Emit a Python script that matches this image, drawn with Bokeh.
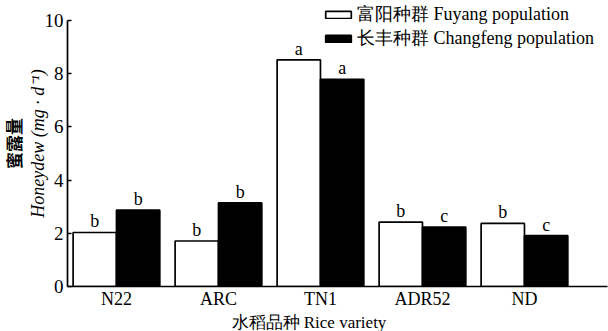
import numpy as np
from bokeh.plotting import figure
from bokeh.models import (Range1d, FixedTicker, ColumnDataSource, LabelSet,
                          Legend, LegendItem, Title)
from bokeh.embed import file_html
from bokeh.resources import INLINE

varieties = ["N22", "ARC", "TN1", "ADR52", "ND"]
fuyang = [2.03, 1.71, 8.52, 2.42, 2.37]
changfeng = [2.87, 3.14, 7.79, 2.23, 1.91]
fuyang_letters = ["b", "b", "a", "b", "b"]
changfeng_letters = ["b", "b", "a", "c", "c"]
y_ticks = [0, 2, 4, 6, 8, 10]
series_names = ["富阳种群 Fuyang population", "长丰种群 Changfeng population"]
x_title = "水稻品种 Rice variety"
y_title_cn = "蜜露量"
y_title_en = "Honeydew (mg · d⁻¹)"

SERIF = "Liberation Serif"

idx = np.arange(len(varieties))
bar_w = 0.425
src_f = ColumnDataSource(dict(x=idx - bar_w / 2, top=fuyang, lab=fuyang_letters))
src_c = ColumnDataSource(dict(x=idx + bar_w / 2, top=changfeng, lab=changfeng_letters))

p = figure(width=608, height=331, output_backend="svg", toolbar_location=None,
           x_range=Range1d(-0.48, 4.814), y_range=Range1d(0, 10.75),
           min_border_left=67, min_border_right=1, min_border_top=0,
           min_border_bottom=44)
p.xgrid.visible = False
p.ygrid.visible = False
p.outline_line_color = None
p.background_fill_color = "white"
p.border_fill_color = "white"

r_f = p.vbar(x="x", top="top", width=bar_w, bottom=0, source=src_f,
             fill_color="white", line_color="black", line_width=1.7)
r_c = p.vbar(x="x", top="top", width=bar_w, bottom=0, source=src_c,
             fill_color="black", line_color="black", line_width=1.7)

for src in (src_f, src_c):
    p.add_layout(LabelSet(x="x", y="top", text="lab", source=src, y_offset=5,
                          text_align="center", text_baseline="alphabetic",
                          text_font=SERIF, text_font_size="18px",
                          text_color="black"))

# axes
xa = p.xaxis[0]
xa.ticker = FixedTicker(ticks=[int(i) for i in idx])
xa.major_label_overrides = {int(i): v for i, v in zip(idx, varieties)}
xa.major_tick_in = 0
xa.major_tick_out = 0
xa.minor_tick_line_color = None
xa.major_label_standoff = 2
xa.axis_line_width = 1.7
xa.axis_line_color = "black"
xa.major_label_text_font = SERIF
xa.major_label_text_font_size = "18px"
xa.major_label_text_color = "black"

ya = p.yaxis[0]
ya.ticker = FixedTicker(ticks=y_ticks)
ya.bounds = (0, 10)
ya.major_tick_in = 4
ya.major_tick_out = 0
ya.minor_tick_line_color = None
ya.major_label_standoff = 4
ya.axis_line_width = 1.7
ya.axis_line_color = "black"
ya.major_tick_line_width = 1.5
ya.major_tick_line_color = "black"
ya.major_label_text_font = SERIF
ya.major_label_text_font_size = "19px"
ya.major_label_text_color = "black"
ya.axis_label = y_title_en
ya.axis_label_standoff = -6
ya.axis_label_text_font = SERIF
ya.axis_label_text_font_style = "italic"
ya.axis_label_text_font_size = "18px"
ya.axis_label_text_color = "black"

# axis titles
p.add_layout(Title(text=y_title_cn, align="center", standoff=-3,
                   text_font="Noto Sans CJK SC", text_font_style="bold",
                   text_font_size="17px", text_color="black"), "left")
p.add_layout(Title(text=x_title, align="left", offset=164, standoff=-1,
                   text_font=SERIF, text_font_style="normal",
                   text_font_size="17px", text_color="black"), "below")

legend = Legend(items=[LegendItem(label=series_names[0], renderers=[r_f]),
                       LegendItem(label=series_names[1], renderers=[r_c])],
                location=(255, 236), glyph_width=32, glyph_height=9,
                label_standoff=3, padding=0, spacing=0, margin=0,
                border_line_color=None, background_fill_alpha=0,
                label_text_font=SERIF, label_text_font_size="18px",
                label_text_color="black")
p.add_layout(legend)

open("out.html", "w").write(file_html(p, INLINE))
